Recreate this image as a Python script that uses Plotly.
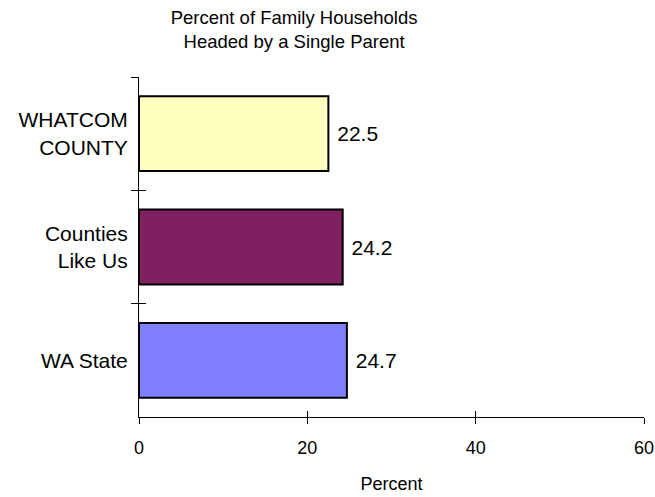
import plotly.graph_objects as go

# chart data
categories = ['WHATCOM<br>COUNTY', 'Counties<br>Like Us', 'WA State']
percent = [22.5, 24.2, 24.7]
bar_colors = ['#FFFFC0', '#802060', '#8080FF']
x_ticks = [0, 20, 40, 60]

font_name = 'Liberation Sans, Arial, sans-serif'

fig = go.Figure()

fig.add_trace(go.Bar(
    x=percent,
    y=categories,
    orientation='h',
    width=0.66,
    marker=dict(color=bar_colors, line=dict(color='black', width=2)),
    text=[f' {v:.1f}' for v in percent],
    textposition='outside',
    textfont=dict(size=21, color='black', family=font_name),
    cliponaxis=False,
    hoverinfo='x+y',
    showlegend=False
))

# invisible copy on the second axis pair, used only for inside tick marks
fig.add_trace(go.Bar(
    x=percent,
    y=categories,
    orientation='h',
    xaxis='x2',
    yaxis='y2',
    opacity=0,
    hoverinfo='skip',
    showlegend=False
))

fig.update_layout(
    width=655,
    height=497,
    margin=dict(l=139, r=11, t=77, b=80, autoexpand=False),
    plot_bgcolor='white',
    paper_bgcolor='white',
    font=dict(family=font_name, size=18, color='black'),
    title=dict(
        text='Percent of Family Households<br>Headed by a Single Parent',
        x=0.449, xanchor='center', y=0.951, yanchor='top',
        font=dict(size=18.5), automargin=False
    ),
    xaxis=dict(
        range=[0, 60],
        tickvals=x_ticks,
        ticks='outside', ticklen=6, tickcolor='black', tickwidth=1,
        showline=True, linecolor='black', linewidth=1,
        showgrid=False, zeroline=False,
        title=dict(text='Percent', standoff=20, font=dict(size=18)),
        tickfont=dict(size=18),
        ticklabelstandoff=8,
        automargin=False
    ),
    yaxis=dict(
        type='category',
        categoryorder='array',
        categoryarray=categories,
        autorange='reversed',
        tickson='boundaries',
        ticks='outside', ticklen=7, tickcolor='black', tickwidth=1,
        showline=True, linecolor='black', linewidth=1,
        showgrid=False,
        tickfont=dict(size=21),
        ticklabelstandoff=6,
        automargin=False
    ),
    xaxis2=dict(
        overlaying='x', matches='x', anchor='y2', side='bottom',
        tickvals=x_ticks, ticks='inside', ticklen=6, tickcolor='black',
        showticklabels=False, showline=False, showgrid=False, zeroline=False
    ),
    yaxis2=dict(
        overlaying='y', anchor='x2',
        type='category',
        categoryorder='array',
        categoryarray=categories,
        autorange='reversed',
        tickson='boundaries',
        ticks='inside', ticklen=7, tickcolor='black',
        showticklabels=False, showline=False, showgrid=False
    ),
    bargap=0.34
)

# drop the default page margin so the figure sits at the window's corner
fig.write_html('out.html', config={'displayModeBar': False},
               post_script="document.body.style.margin='0';")
